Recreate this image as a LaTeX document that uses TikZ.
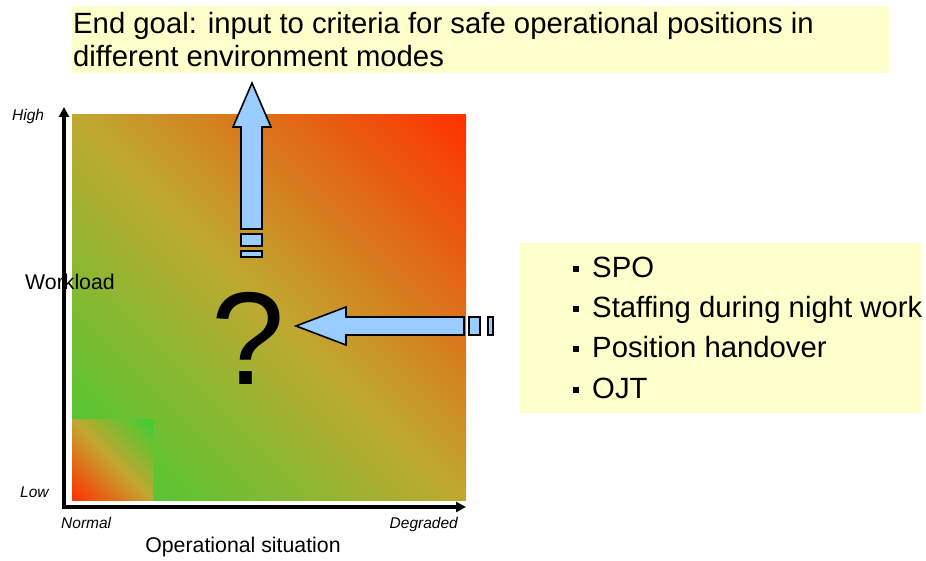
\documentclass[tikz,border=0pt]{standalone}
\usepackage{fontspec}
\setmainfont{Liberation Sans}
\usepackage{tikz}
\usetikzlibrary{arrows.meta}
\usetikzlibrary{positioning}

\definecolor{wlgreen}{RGB}{60,205,50}
\definecolor{wlolive}{RGB}{192,168,48}
\definecolor{wlred}{RGB}{255,50,0}
\definecolor{arrowblue}{RGB}{153,204,255}
\definecolor{notebg}{RGB}{255,255,204}

\pgfdeclarehorizontalshading{loadup}{100bp}{color(0bp)=(wlgreen); color(15bp)=(wlgreen);
  color(50bp)=(wlolive); color(85bp)=(wlred); color(100bp)=(wlred)}
\pgfdeclarehorizontalshading{loaddown}{100bp}{color(0bp)=(wlred); color(15bp)=(wlred);
  color(50bp)=(wlolive); color(85bp)=(wlgreen); color(100bp)=(wlgreen)}

\begin{document}
\begin{tikzpicture}
    [
    x=1pt, y=-1pt,
    bigtext/.style={font=\fontsize{29.3}{33}\selectfont, inner sep=0pt},
    midtext/.style={font=\fontsize{21.3}{24}\selectfont, inner sep=0pt},
    scalelabel/.style={font=\fontsize{15.5}{18}\selectfont\itshape, inner sep=0pt},
    blockarrow/.style={fill=arrowblue, draw=black, line width=1.6pt, line join=miter},
    bulletbox/.style={fill=black, inner sep=0pt, minimum size=6.5pt},
    axisline/.style={line width=3.5pt, line join=miter,
      {Triangle[length=10pt,width=10pt]}-{Triangle[length=10pt,width=10pt]}},
    ]
    \useasboundingbox (0,0) rectangle (926,561);

    \shade [shading=loadup, shading angle=45] (72,115) rectangle (466,500);
    \shade [shading=loaddown, shading angle=45] (72,419) rectangle (153,500);

    \node (workload) at (25,290) [midtext, anchor=base west] {Workload};
    \draw [axisline] (64,107) -- (64,507) -- (466,507);

    \node (high) at (12,121) [scalelabel, anchor=base west] {High};
    \node (low) at (20,497) [scalelabel, anchor=base west] {Low};
    \node (normal) at (61,528) [scalelabel, anchor=base west] {Normal};
    \node (degraded) at (458,528) [scalelabel, anchor=base east] {Degraded};
    \node (opsit) at (243,552) [midtext, anchor=base] {Operational situation};

    \draw [blockarrow] (241,229) -- (241,127) -- (233,127) -- (252,83)
      -- (271,127) -- (262,127) -- (262,229) -- cycle;
    \draw [blockarrow] (241,234) rectangle (262,246);
    \draw [blockarrow] (241,251) rectangle (262,257);

    \draw [blockarrow] (464,317) -- (346,317) -- (346,307) -- (296,326)
      -- (346,345) -- (346,335) -- (464,335) -- cycle;
    \draw [blockarrow] (469,317) rectangle (480,335);
    \draw [blockarrow] (488,317) rectangle (493,335);

    \node (query) at (248,384) [font=\fontsize{132}{132}\selectfont, inner sep=0pt, anchor=base] {?};

    \fill [notebg] (72,6) rectangle (889,73);
    \node (goal1) at (73,34) [bigtext, anchor=base west]
      {End goal: input to criteria for safe operational positions in};
    \node (goal2) at (73,67) [bigtext, anchor=base west] {different environment modes};

    \fill [notebg] (520,243) rectangle (921,413);
    \foreach \y/\txt [count=\i] in {277/SPO, 317/Staffing during night work,
        357/Position handover, 398/OJT}
    {
      \node (item\i) at (592,\y) [bigtext, anchor=base west] {\txt};
      \node (dot\i) at (576,\y-8) [bulletbox] {};
    }
  \end{tikzpicture}
\end{document}
